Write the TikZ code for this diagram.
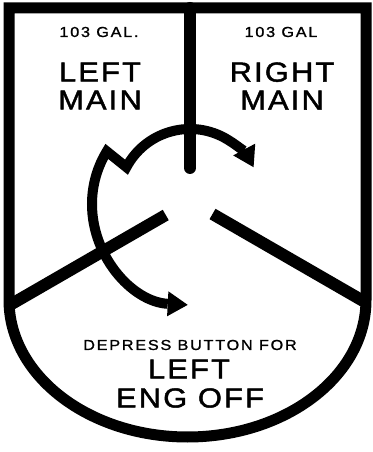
\documentclass[tikz,border=0pt]{standalone}
\usepackage{fontspec}
\newfontfamily\plaque[FakeStretch=1.12,LetterSpace=8,FakeBold=1.6]{Liberation Sans}
\newfontfamily\plaquesm[FakeStretch=1.12,LetterSpace=12,FakeBold=1.2]{Liberation Sans}
\usetikzlibrary{arrows.meta}

\begin{document}
\begin{tikzpicture}[x=1pt,y=1pt,
  border/.style={line width=11pt,line join=miter},
  spoke/.style={line width=12pt},
  swing/.style={line width=10pt,
    {Triangle[length=20pt,width=25pt,line width=0pt]}-{Triangle[length=20pt,width=25pt,line width=0pt]}},
  bigtxt/.style={font=\plaque\fontsize{27.5}{28}\selectfont,align=center,inner sep=0pt},
  smalltxt/.style={font=\plaquesm\fontsize{14.5}{16}\selectfont,inner sep=0pt}]
  \useasboundingbox[fill=white] (0,0) rectangle (372,452);

  % shield outline
  \draw[border] (9,152) -- (9,444) -- (366,444) -- (366,152)
    arc[start angle=0,end angle=-180,x radius=178.5,y radius=137] -- cycle;

  % spokes
  \coordinate (hub) at (190,251);
  \coordinate (topend) at (190,444);
  \coordinate (lend) at ([shift={(210:209)}]hub);
  \coordinate (rend) at ([shift={(330:203)}]hub);
  \draw[spoke,line cap=round] (topend) -- ([shift={(90:33)}]hub);
  \draw[spoke] ([shift={(210:28)}]hub) -- (lend);
  \draw[spoke] ([shift={(330:26)}]hub) -- (rend);

  % selector arrow with break
  \coordinate (lc) at (193,248);
  \coordinate (brk) at ([shift={(152:72)}]hub);
  \draw[swing] ([shift={(267:101)}]lc) arc[start angle=267,end angle=148.6,radius=101]
    -- (brk) arc[start angle=152,end angle=28,radius=72];

  % labels
  \node[smalltxt] (lgal) at (99,420) {103 GAL.};
  \node[smalltxt] (rgal) at (281,420) {103 GAL};
  \node[bigtxt] (lmain) at (100,366) {LEFT\\MAIN};
  \node[bigtxt] (rmain) at (282,366) {RIGHT\\MAIN};
  \node[smalltxt] (dep) at (190,107) {DEPRESS BUTTON FOR};
  \node[bigtxt] (lft) at (189,83) {LEFT};
  \node[bigtxt] (eng) at (190,54) {ENG OFF};
\end{tikzpicture}
\end{document}
